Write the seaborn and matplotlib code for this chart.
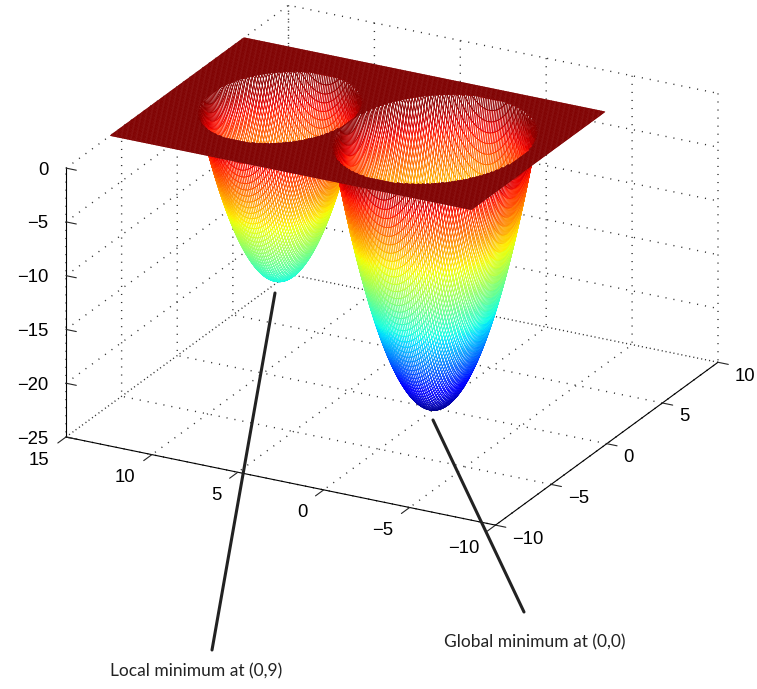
import numpy as np
import matplotlib
matplotlib.use("Agg")
import matplotlib.pyplot as plt
import seaborn as sns
from mpl_toolkits.mplot3d import proj3d

sns.set_style("white")
plt.rcParams['font.family'] = ['Liberation Sans', 'DejaVu Sans']

# wells
well_x = [0, 0]
well_y = [0, 9]
well_depth = [25, 16]

x_range = [-6, 6]
y_range = [-6, 15]
x_ticks = [-10, -5, 0, 5, 10]
y_ticks = [-10, -5, 0, 5, 10, 15]
z_ticks = [-25, -20, -15, -10, -5, 0]


def minus(vals):
    return [str(v).replace("-", "\u2212") for v in vals]


# surface: flat sheet at 0 with a paraboloid dip per well
X, Y = np.meshgrid(np.arange(x_range[0], x_range[1] + 0.05, 0.1),
                   np.arange(y_range[0], y_range[1] + 0.05, 0.1))
Z = np.zeros_like(X)
for cx, cy, d in zip(well_x, well_y, well_depth):
    Z = np.minimum(Z, (X - cx) ** 2 + (Y - cy) ** 2 - d)

fig = plt.figure(figsize=(7.57, 6.89), dpi=100)
side = 600.0
ax = fig.add_axes([0.1, 0.05, side / 757, side / 689], projection="3d")
ax.set_proj_type("ortho")
ax.set_box_aspect((476, 486.5, 292))
ax.view_init(elev=22.8, azim=-152.1)
ax.set_xlim(-10, 10)
ax.set_ylim(-10, 15)
ax.set_zlim(-25, 0)


# move the axes so the floor corners land where they are in the picture
def corner_px(x, y, z):
    xp, yp, _ = proj3d.proj_transform(x, y, z, ax.get_proj())
    return ax.transData.transform((xp, yp))


ax.apply_aspect()
bbox = ax.get_position()
org = np.array([bbox.x0 * 757, bbox.y0 * 689])
left = corner_px(-10, 15, -25)
right = corner_px(10, -10, -25)
scale = (718 - 66) / (right[0] - left[0])
frac = (left - org) / side
new_side = side * scale
new_org = np.array([66, 689 - 437]) - frac * new_side
ax.set_position([new_org[0] / 757, new_org[1] / 689, new_side / 757, new_side / 689])

# mesh look: white faces, edges coloured by height
jet = plt.get_cmap("jet")
zmid = (Z[:-1, :-1] + Z[1:, :-1] + Z[:-1, 1:] + Z[1:, 1:]) / 4
edge = jet((zmid + 25) / 25).reshape(-1, 4)
surf = ax.plot_surface(X, Y, Z, rstride=1, cstride=1, color="white", shade=False,
                       linewidth=0.65, antialiased=True)
surf.set_edgecolor(edge)

ax.set_xticks(x_ticks)
ax.set_yticks(y_ticks)
ax.set_zticks(z_ticks)
ax.set_xticklabels(minus(x_ticks), fontsize=13.3, ha="left", va="center", color="black")
ax.set_yticklabels(minus(y_ticks), fontsize=13.3, ha="right", va="bottom", color="black")
ax.set_zticklabels(minus(z_ticks), fontsize=13.3, ha="right", va="center", color="black")
ax.tick_params(axis="x", pad=2.5)
ax.tick_params(axis="y", pad=11.7)
ax.tick_params(axis="z", pad=-0.7)
# z ticks run along y in the picture, not along x
ax.zaxis._get_tickdir = lambda pos: 1
for a, out in ((ax.xaxis, -0.3), (ax.yaxis, -0.46), (ax.zaxis, -0.3)):
    a.set_pane_color((1, 1, 1, 0))
    a.pane.set_edgecolor("none")
    a.line.set_color("black")
    a.line.set_linewidth(0.8)
    a._axinfo["grid"].update(color="#333333", linestyle=(0, (0.8, 5)), linewidth=1.0)
    a._axinfo["tick"].update(inward_factor=0, outward_factor=out)
    a._axinfo["tick"]["linewidth"] = {True: 0.8, False: 0.5}

fig.text(110 / 757, 1 - 671 / 689, "Local minimum at (0,9)", fontsize=12.5, family="Lato", va="center", color="#222222")
fig.text(444 / 757, 1 - 642 / 689, "Global minimum at (0,0)", fontsize=12.5, family="Lato", va="center", color="#222222")
fig.add_artist(plt.Line2D([212 / 757, 275 / 757], [1 - 650 / 689, 1 - 293 / 689], color="#222222", lw=2.2))
fig.add_artist(plt.Line2D([524 / 757, 433 / 757], [1 - 612 / 689, 1 - 420 / 689], color="#222222", lw=2.2))

fig.savefig("out.png", dpi=100)
